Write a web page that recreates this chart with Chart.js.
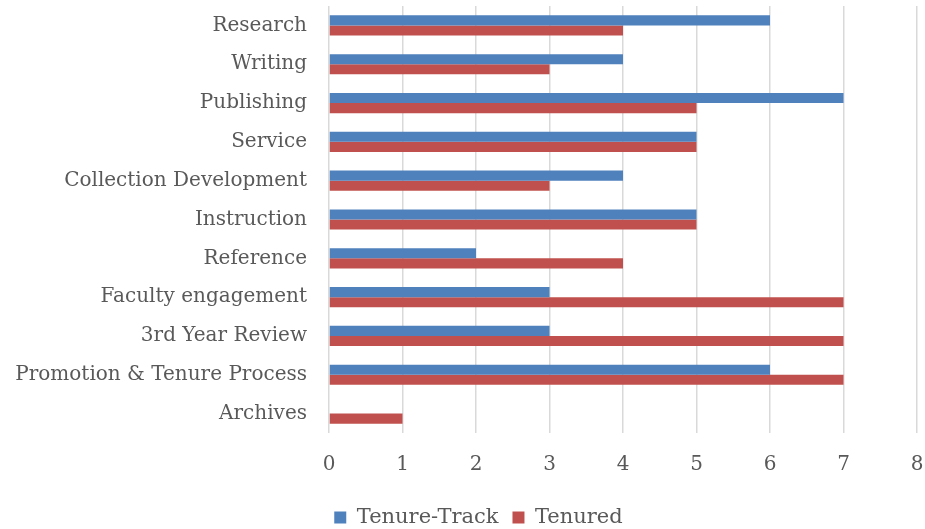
<!DOCTYPE html>
<html>
<head>
<meta charset="utf-8">
<script src="https://cdn.jsdelivr.net/npm/chart.js@4/dist/chart.umd.min.js"></script>
<style>
  html, body { margin: 0; padding: 0; background: #fff; }
  #wrap { width: 925px; height: 529px; position: relative; }
</style>
</head>
<body>
<div id="wrap"><canvas id="chart"></canvas></div>
<script>
const categories = ['Research', 'Writing', 'Publishing', 'Service', 'Collection Development',
  'Instruction', 'Reference', 'Faculty engagement', '3rd Year Review',
  'Promotion & Tenure Process', 'Archives'];
const tenureTrack = [6, 4, 7, 5, 4, 5, 2, 3, 3, 6, null];
const tenured = [4, 3, 5, 5, 3, 5, 4, 7, 7, 7, 1];
const xTicks = [0, 1, 2, 3, 4, 5, 6, 7, 8];

const textColor = '#595959';
const fontFamily = '"DejaVu Serif", "Liberation Serif", serif';

// legend in the original sits centred under the plot, not the whole canvas
const legendShift = {
  id: 'legendShift',
  afterLayout(chart) {
    const lg = chart.legend;
    if (!lg) return;
    lg.left += 16;
    lg.right += 16;
  }
};

new Chart(document.getElementById('chart'), {
  type: 'bar',
  data: {
    labels: categories,
    datasets: [
      { label: 'Tenure-Track', data: tenureTrack, backgroundColor: '#4F81BD',
        barPercentage: 1, categoryPercentage: 0.52 },
      { label: 'Tenured', data: tenured, backgroundColor: '#C0504D',
        barPercentage: 1, categoryPercentage: 0.52 }
    ]
  },
  options: {
    indexAxis: 'y',
    responsive: true,
    maintainAspectRatio: false,
    animation: false,
    layout: { padding: { top: 6, right: 0, bottom: -9, left: 0 } },
    plugins: {
      tooltip: { enabled: false },
      legend: {
        position: 'bottom',
        labels: {
          color: textColor,
          font: { family: fontFamily, size: 21 },
          boxWidth: 12, boxHeight: 12, padding: 14
        }
      }
    },
    scales: {
      x: {
        min: 0, max: 8,
        afterBuildTicks: (s) => { s.ticks = xTicks.map(v => ({ value: v })); },
        afterFit: (s) => { s.height = 60; s.paddingLeft = 0; s.paddingRight = 8; },
        grid: { color: '#D9D9D9', lineWidth: 1.5, drawTicks: false },
        border: { display: false },
        ticks: { color: textColor, font: { family: fontFamily, size: 20 }, padding: 20 }
      },
      y: {
        grid: { display: false },
        border: { display: false },
        afterFit: (s) => { s.width = 329; s.paddingTop = 0; s.paddingBottom = 0; },
        ticks: { color: textColor, font: { family: fontFamily, size: 20 }, padding: 14 }
      }
    }
  },
  plugins: [legendShift]
});
</script>
</body>
</html>
